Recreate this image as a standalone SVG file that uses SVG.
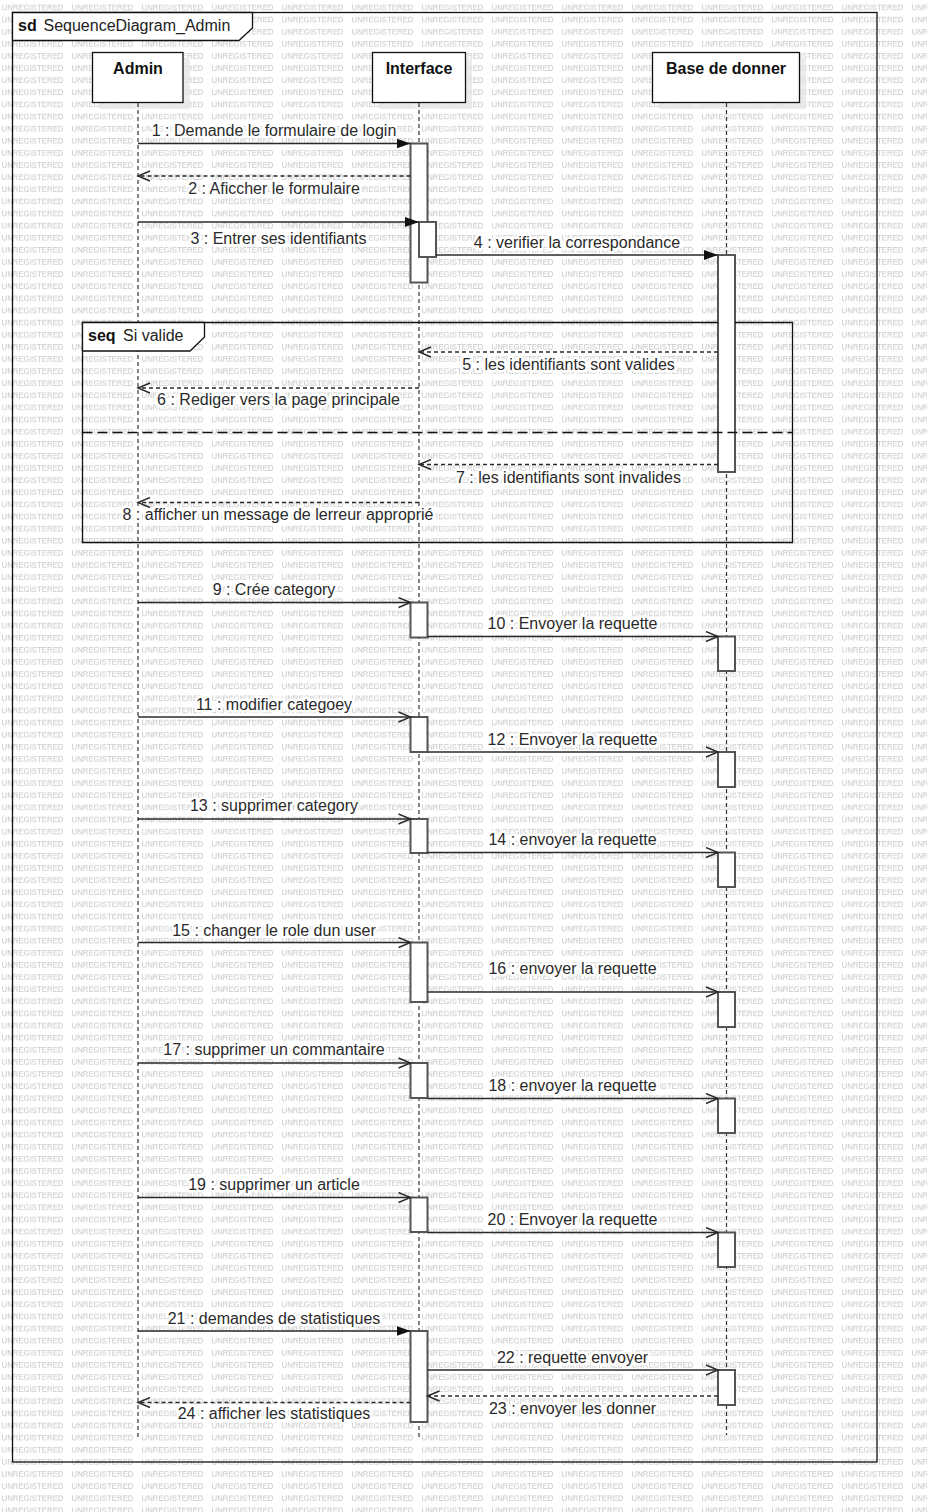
<svg xmlns="http://www.w3.org/2000/svg" width="927" height="1512" viewBox="0 0 927 1512">
<style>
text{font-family:"Liberation Sans",Arial,sans-serif}
.wm{font-size:8px;fill:#c6c6c6}
.title{font-size:16px;font-weight:bold;fill:#111}
.kw{font-size:16px;font-weight:bold;fill:#111}
.nm{font-size:16px;fill:#222}
.lbl{font-size:16px;fill:#2a2a2a;text-anchor:middle;stroke:#fff;stroke-width:5;stroke-linejoin:round;paint-order:stroke}
.box{fill:#fff;stroke:#111;stroke-width:1.3}
.shadow{fill:#e6e6e6;fill-opacity:0.75}
.life{stroke:#333;stroke-width:1.2;stroke-dasharray:4 3;fill:none}
.bar{fill:#fff;stroke:#555;stroke-width:2}
.msg{stroke:#2a2a2a;stroke-width:1.4;fill:none}
.ret{stroke:#2a2a2a;stroke-width:1.3;fill:none;stroke-dasharray:4 3}
.frame{fill:none;stroke:#111;stroke-width:1.3}
.tab{fill:#fff;stroke:#111;stroke-width:1.3}
</style>
<defs>
<pattern id="wmp" width="70" height="12.12" patternUnits="userSpaceOnUse">
<text class="wm" x="1.5" y="10.2" textLength="62" lengthAdjust="spacingAndGlyphs">UNREGISTERED</text>
</pattern>
<marker id="filled" markerUnits="userSpaceOnUse" markerWidth="15" markerHeight="12" refX="14" refY="6" orient="auto">
<path d="M0,1 L14,6 L0,11 z" fill="#111"/>
</marker>
<marker id="open" markerUnits="userSpaceOnUse" markerWidth="15" markerHeight="12" refX="13" refY="6" orient="auto">
<path d="M1,1 L13,6 L1,11" fill="none" stroke="#2a2a2a" stroke-width="1.4"/>
</marker>
</defs>
<rect x="0" y="0" width="927" height="1512" fill="#fff"/>
<rect x="0" y="0" width="927" height="1512" fill="url(#wmp)"/>

<g id="frame">
<rect class="frame" x="12.5" y="12.5" width="864.5" height="1449.5"/>
<path class="tab" d="M12.5,12.5 H252.5 V28 L239,40.5 H12.5 Z"/>
<text class="kw" x="18" y="31">sd</text>
<text class="nm" x="43.5" y="31">SequenceDiagram_Admin</text>
</g>

<g id="node_admin">
<rect class="shadow" x="99" y="59" width="91" height="50"/>
<rect class="box" x="92.5" y="52.5" width="90.5" height="50"/>
<text class="title" x="138" y="74" text-anchor="middle">Admin</text>
<line class="life" x1="138" y1="103" x2="138" y2="1440"/>
</g>

<g id="node_interface">
<rect class="shadow" x="379" y="59" width="93" height="50"/>
<rect class="box" x="372.5" y="52.5" width="93" height="50"/>
<text class="title" x="419" y="74" text-anchor="middle">Interface</text>
<line class="life" x1="419" y1="103" x2="419" y2="1440"/>
<rect class="bar" x="410.5" y="143.5" width="17" height="139"/>
<rect class="bar" x="419" y="222" width="17" height="35"/>
<rect class="bar" x="410.5" y="602.5" width="17" height="35"/>
<rect class="bar" x="410.5" y="717" width="17" height="35"/>
<rect class="bar" x="410.5" y="819" width="17" height="34"/>
<rect class="bar" x="410.5" y="942.5" width="17" height="59.5"/>
<rect class="bar" x="410.5" y="1063" width="17" height="35"/>
<rect class="bar" x="410.5" y="1197.5" width="17" height="34.5"/>
<rect class="bar" x="410.5" y="1331" width="17" height="91"/>
</g>

<g id="node_base_de_donner">
<rect class="shadow" x="659" y="59" width="147" height="50"/>
<rect class="box" x="652.5" y="52.5" width="147" height="50"/>
<text class="title" x="726" y="74" text-anchor="middle">Base de donner</text>
<line class="life" x1="726.5" y1="103" x2="726.5" y2="1435"/>
<rect class="bar" x="718" y="255" width="17" height="217"/>
<rect class="bar" x="718" y="636.5" width="17" height="34.5"/>
<rect class="bar" x="718" y="752" width="17" height="35"/>
<rect class="bar" x="718" y="852.5" width="17" height="34.5"/>
<rect class="bar" x="718" y="992" width="17" height="35"/>
<rect class="bar" x="718" y="1098.5" width="17" height="34.5"/>
<rect class="bar" x="718" y="1232.5" width="17" height="34.5"/>
<rect class="bar" x="718" y="1370" width="17" height="35"/>
</g>

<g id="fragment_si_valide">
<path class="frame" d="M718,322.5 H82.5 V542.5 H792.5 V322.5 H735"/>
<path class="tab" d="M82.5,322.5 H204.5 V337 L190,351 H82.5 Z"/>
<text class="kw" x="88" y="341">seq</text>
<text class="nm" x="123" y="341">Si valide</text>
<line x1="82.5" y1="432.5" x2="792.5" y2="432.5" stroke="#111" stroke-width="1.3" stroke-dasharray="10 5"/>
</g>

<g id="connectors">
<line class="msg" x1="138" y1="143.5" x2="410.5" y2="143.5" marker-end="url(#filled)"/>
<line class="ret" x1="410.5" y1="176" x2="138" y2="176" marker-end="url(#open)"/>
<line class="msg" x1="138" y1="222" x2="419" y2="222" marker-end="url(#filled)"/>
<line class="msg" x1="436" y1="255" x2="718" y2="255" marker-end="url(#filled)"/>
<line class="ret" x1="718" y1="352" x2="419" y2="352" marker-end="url(#open)"/>
<line class="ret" x1="419" y1="388" x2="138" y2="388" marker-end="url(#open)"/>
<line class="ret" x1="718" y1="464.5" x2="419" y2="464.5" marker-end="url(#open)"/>
<line class="ret" x1="419" y1="502.5" x2="138" y2="502.5" marker-end="url(#open)"/>
<line class="msg" x1="138" y1="602.5" x2="410.5" y2="602.5" marker-end="url(#open)"/>
<line class="msg" x1="427.5" y1="636.5" x2="718" y2="636.5" marker-end="url(#open)"/>
<line class="msg" x1="138" y1="717" x2="410.5" y2="717" marker-end="url(#open)"/>
<line class="msg" x1="427.5" y1="752" x2="718" y2="752" marker-end="url(#open)"/>
<line class="msg" x1="138" y1="819" x2="410.5" y2="819" marker-end="url(#open)"/>
<line class="msg" x1="427.5" y1="852.5" x2="718" y2="852.5" marker-end="url(#open)"/>
<line class="msg" x1="138" y1="942.5" x2="410.5" y2="942.5" marker-end="url(#open)"/>
<line class="msg" x1="427.5" y1="992" x2="718" y2="992" marker-end="url(#open)"/>
<line class="msg" x1="138" y1="1063" x2="410.5" y2="1063" marker-end="url(#open)"/>
<line class="msg" x1="427.5" y1="1098.5" x2="718" y2="1098.5" marker-end="url(#open)"/>
<line class="msg" x1="138" y1="1197.5" x2="410.5" y2="1197.5" marker-end="url(#open)"/>
<line class="msg" x1="427.5" y1="1232.5" x2="718" y2="1232.5" marker-end="url(#open)"/>
<line class="msg" x1="138" y1="1331" x2="410.5" y2="1331" marker-end="url(#filled)"/>
<line class="msg" x1="427.5" y1="1370" x2="718" y2="1370" marker-end="url(#open)"/>
<line class="ret" x1="718" y1="1396" x2="427.5" y2="1396" marker-end="url(#open)"/>
<line class="ret" x1="410.5" y1="1402.5" x2="138" y2="1402.5" marker-end="url(#open)"/>

<text class="lbl" x="274" y="136">1 : Demande le formulaire de login</text>
<text class="lbl" x="274" y="194">2 : Aficcher le formulaire</text>
<text class="lbl" x="278.5" y="244">3 : Entrer ses identifiants</text>
<text class="lbl" x="577" y="247.5">4 : verifier la correspondance</text>
<text class="lbl" x="568.5" y="370">5 : les identifiants sont valides</text>
<text class="lbl" x="278.5" y="405">6 : Rediger vers la page principale</text>
<text class="lbl" x="568.5" y="482.5">7 : les identifiants sont invalides</text>
<text class="lbl" x="278" y="520">8 : afficher un message de lerreur approprié</text>
<text class="lbl" x="274" y="595">9 : Crée category</text>
<text class="lbl" x="572.5" y="628.5">10 : Envoyer la requette</text>
<text class="lbl" x="274" y="710">11 : modifier categoey</text>
<text class="lbl" x="572.5" y="745">12 : Envoyer la requette</text>
<text class="lbl" x="274" y="811">13 : supprimer category</text>
<text class="lbl" x="572.5" y="845">14 : envoyer la requette</text>
<text class="lbl" x="274" y="935.5">15 : changer le role dun user</text>
<text class="lbl" x="572.5" y="974">16 : envoyer la requette</text>
<text class="lbl" x="274" y="1055">17 : supprimer un commantaire</text>
<text class="lbl" x="572.5" y="1091">18 : envoyer la requette</text>
<text class="lbl" x="274" y="1190">19 : supprimer un article</text>
<text class="lbl" x="572.5" y="1225">20 : Envoyer la requette</text>
<text class="lbl" x="274" y="1324">21 : demandes de statistiques</text>
<text class="lbl" x="572.5" y="1363">22 : requette envoyer</text>
<text class="lbl" x="572.5" y="1413.5">23 : envoyer les donner</text>
<text class="lbl" x="274" y="1419">24 : afficher les statistiques</text>
</g>
</svg>
